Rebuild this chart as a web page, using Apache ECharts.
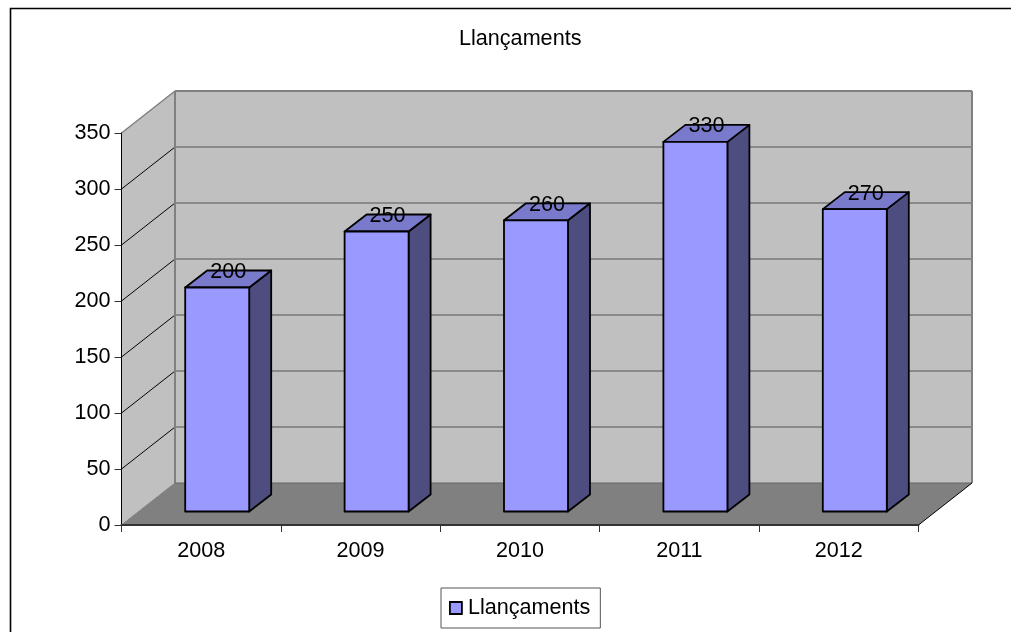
<!DOCTYPE html>
<html>
<head>
<meta charset="utf-8">
<style>html,body{margin:0;padding:0;background:#fff}#c{width:1011px;height:632px}</style>
<script src="https://cdn.jsdelivr.net/npm/echarts@6/dist/echarts.min.js"></script>
</head>
<body>
<div id="c"></div>
<script>
const chartTitle = 'Llançaments';
const seriesName = 'Llançaments';
const categories = ['2008', '2009', '2010', '2011', '2012'];
const values = [200, 250, 260, 330, 270];
const yTicks = [0, 50, 100, 150, 200, 250, 300, 350];

const FONT = '"Liberation Sans", Arial, sans-serif';
const FS = 21.6;
const DEPTH_X = 53.5, DEPTH_Y = -42;
const BAR_DX = 16, BAR_DY = -13.5, BAR_W = 64, BAR_DEPTH_X = 22, BAR_DEPTH_Y = -17;
const YMAX = 350;

function poly(points, fill, stroke, lw) {
  return { type: 'polygon', shape: { points }, style: { fill, stroke: stroke || 'none', lineWidth: lw || 0 }, silent: true };
}
function line(a, b, stroke, lw) {
  return { type: 'line', shape: { x1: a[0], y1: a[1], x2: b[0], y2: b[1] }, style: { stroke, lineWidth: lw }, silent: true };
}
function renderWalls(params, api) {
  const cs = params.coordSys;
  const xL = cs.x, xR = cs.x + cs.width;
  const y0 = api.coord([categories[0], 0])[1];
  const yT = api.coord([categories[0], YMAX])[1];
  const children = [
    poly([[xL, y0], [xL + DEPTH_X, y0 + DEPTH_Y], [xL + DEPTH_X, yT + DEPTH_Y], [xL, yT]], '#c0c0c0'),
    poly([[xL + DEPTH_X, y0 + DEPTH_Y], [xR + DEPTH_X, y0 + DEPTH_Y], [xR + DEPTH_X, yT + DEPTH_Y], [xL + DEPTH_X, yT + DEPTH_Y]], '#c0c0c0'),
    poly([[xL, y0], [xR, y0], [xR + DEPTH_X, y0 + DEPTH_Y], [xL + DEPTH_X, y0 + DEPTH_Y]], '#808080')
  ];
  yTicks.forEach(function (t) {
    const y = api.coord([categories[0], t])[1];
    if (t > 0 && t < YMAX) {
      children.push(line([xL, y], [xL + DEPTH_X, y + DEPTH_Y], '#000', 1));
      children.push(line([xL + DEPTH_X, y + DEPTH_Y], [xR + DEPTH_X, y + DEPTH_Y], '#555', 1.2));
    }
  });
  children.push(line([xL, yT], [xL + DEPTH_X, yT + DEPTH_Y], '#808080', 1.5));
  children.push(line([xL + DEPTH_X, yT + DEPTH_Y], [xR + DEPTH_X, yT + DEPTH_Y], '#808080', 2));
  children.push(line([xL + DEPTH_X, y0 + DEPTH_Y], [xL + DEPTH_X, yT + DEPTH_Y], '#808080', 2));
  children.push(line([xR + DEPTH_X, y0 + DEPTH_Y], [xR + DEPTH_X, yT + DEPTH_Y], '#808080', 2));
  children.push(line([xL + DEPTH_X, y0 + DEPTH_Y], [xR + DEPTH_X, y0 + DEPTH_Y], '#666', 1));
  children.push(line([xL, y0], [xL + DEPTH_X, y0 + DEPTH_Y], '#808080', 1));
  children.push(line([xR, y0], [xR + DEPTH_X, y0 + DEPTH_Y], '#000', 1));
  children.push(line([xL, yT], [xL, y0], '#000', 1));
  return { type: 'group', children };
}
function renderBar(params, api) {
  const cat = api.value(0), val = api.value(1);
  const base = api.coord([cat, 0]);
  const top = api.coord([cat, val]);
  const l = base[0] + BAR_DX - BAR_W / 2, r = l + BAR_W;
  const b = base[1] + BAR_DY, t = top[1] + BAR_DY;
  const dx = BAR_DEPTH_X, dy = BAR_DEPTH_Y;
  const edge = { stroke: '#000', lineWidth: 1.8, lineJoin: 'round' };
  const mk = (pts, fill) => ({ type: 'polygon', shape: { points: pts }, style: Object.assign({ fill }, edge) });
  return {
    type: 'group',
    children: [
      mk([[r, b], [r + dx, b + dy], [r + dx, t + dy], [r, t]], '#4d4d80'),
      mk([[l, t], [r, t], [r + dx, t + dy], [l + dx, t + dy]], '#7a7acc'),
      mk([[l, t], [r, t], [r, b], [l, b]], '#9999ff'),
      {
        type: 'text',
        style: {
          x: (l + r) / 2 + 11, y: t + dy + 1.5,
          text: String(val), fill: '#000',
          font: FS + 'px ' + FONT, align: 'center', verticalAlign: 'middle'
        }
      }
    ]
  };
}

const chart = echarts.init(document.getElementById('c'), null, { renderer: 'canvas' });
chart.setOption({
  animation: false,
  backgroundColor: '#fff',
  title: {
    text: chartTitle, left: 454, top: 23,
    textStyle: { fontFamily: FONT, fontSize: FS, fontWeight: 'normal', color: '#000' }
  },
  graphic: [{
    type: 'rect', z: -1, silent: true,
    shape: { x: 10.5, y: 8.5, width: 1100, height: 700 },
    style: { fill: 'none', stroke: '#000', lineWidth: 1.6 }
  }],
  legend: {
    left: 441, top: 588, orient: 'horizontal',
    padding: [9, 10, 9, 8],
    backgroundColor: '#fff', borderColor: '#555', borderWidth: 1, borderRadius: 0,
    itemWidth: 12, itemHeight: 12, icon: 'rect',
    data: [{ name: seriesName, itemStyle: { color: '#9999ff', borderColor: '#000', borderWidth: 1.8 } }],
    textStyle: { fontFamily: FONT, fontSize: FS, color: '#000', padding: [0, 0, 0, 1] }
  },
  grid: { left: 121.5, top: 133, width: 797, height: 392, containLabel: false },
  xAxis: {
    type: 'category', data: categories, boundaryGap: true,
    axisLine: { show: true, lineStyle: { color: '#333', width: 2 } },
    axisTick: { show: true, alignWithLabel: false, length: 7, lineStyle: { color: '#333', width: 1 } },
    axisLabel: { fontFamily: FONT, fontSize: FS, color: '#000', margin: 15 },
    splitLine: { show: false }
  },
  yAxis: {
    type: 'value', min: 0, max: YMAX, interval: 50,
    axisLine: { show: true, lineStyle: { color: '#000', width: 1 } },
    axisTick: { show: true, length: 7, lineStyle: { color: '#333', width: 1 } },
    axisLabel: { fontFamily: FONT, fontSize: FS, color: '#000', margin: 11, padding: [0, 0, 4, 0] },
    splitLine: { show: false }
  },
  series: [
    {
      name: 'walls', type: 'custom', silent: true, z: 0,
      renderItem: renderWalls, data: [[categories[0], 0]],
      encode: { x: 0, y: 1 }, clip: false, legendHoverLink: false
    },
    {
      name: seriesName, type: 'custom', z: 2,
      renderItem: renderBar, clip: false,
      itemStyle: { color: '#9999ff' },
      data: categories.map((c, i) => [i, values[i]]),
      encode: { x: 0, y: 1 }
    }
  ]
});
</script>
</body>
</html>
